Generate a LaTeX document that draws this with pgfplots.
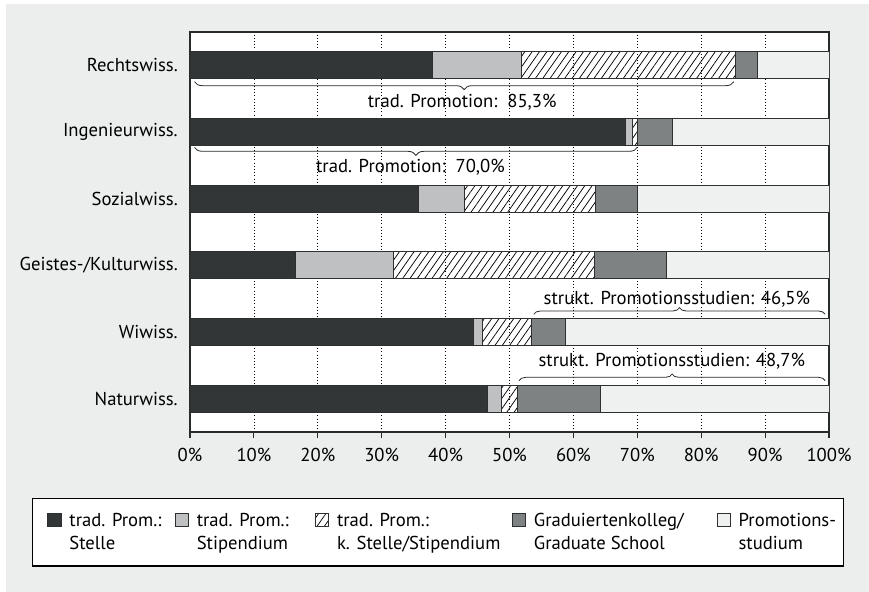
\documentclass[border=0pt]{standalone}
\usepackage{fontspec}
\setmainfont{PT Sans}
\usepackage{pgfplots}
\pgfplotsset{compat=1.18}
\usetikzlibrary{patterns.meta,decorations.pathreplacing}

\definecolor{bgc}{RGB}{236,237,237}
\definecolor{axc}{RGB}{40,43,44}
\definecolor{barc}{RGB}{45,48,49}
\definecolor{cstelle}{RGB}{50,54,55}
\definecolor{cstip}{RGB}{191,192,193}
\definecolor{cgrad}{RGB}{126,130,130}
\definecolor{cstud}{RGB}{239,240,240}

\newcommand{\lent}[3]{\makebox[#1][l]{\begin{tabular}[b]{@{}l@{}}#2\\#3\end{tabular}}}

\begin{document}
\fontsize{14pt}{17.25pt}\selectfont
\begin{tikzpicture}
\useasboundingbox (0,0) rectangle (651.75pt,444pt);
\fill[bgc] (4.5pt,0) rectangle (651.75pt,441pt);
\begin{axis}[
  at={(142.5pt,120pt)}, anchor=south west,
  scale only axis, width=479.25pt, height=300pt,
  xbar stacked, bar width=20.25pt,
  xmin=0, xmax=100, ymin=-0.5, ymax=5.5,
  axis background/.style={fill=white},
  axis line style={draw=axc, line width=0.9pt},
  xtick={0,10,...,100},
  xticklabels={0\%,10\%,20\%,30\%,40\%,50\%,60\%,70\%,80\%,90\%,100\%},
  xticklabel style={yshift=-3pt},
  xtick pos=lower, tick align=outside, major tick length=4.5pt,
  xtick style={draw=axc, line width=0.8pt},
  ytick={0,...,5},
  yticklabels={Naturwiss., Wiwiss., Geistes-/Kulturwiss., Sozialwiss., Ingenieurwiss., Rechtswiss.},
  ytick style={draw=none},
  yticklabel style={inner sep=0pt, xshift=-4.5pt},
  xmajorgrids, major grid style={dotted, black, line width=0.5pt},
  legend columns=5,
  legend image code/.code={\draw[#1, line width=0.6pt] (0.5pt,17.25pt) rectangle (10.5pt,27.25pt); \path (0pt,-3pt);},
  legend style={at={(-0.2473,-0.165)}, anchor=north west, draw=black, line width=1pt,
    fill=white, inner xsep=10.5pt, inner ysep=9pt, cells={anchor=base west},
    nodes={inner sep=0pt},
    /tikz/every odd column/.append style={column sep=6pt},
    /tikz/every even column/.append style={column sep=0pt}},
]
% Stelle
\addplot[fill=cstelle, draw=barc, line width=0.6pt] coordinates
  {(46.5,0) (44.4,1) (16.5,2) (35.8,3) (68.2,4) (38.0,5)};
% Stipendium
\addplot[fill=cstip, draw=barc, line width=0.6pt] coordinates
  {(2.3,0) (1.3,1) (15.3,2) (7.1,3) (1.0,4) (13.9,5)};
% keine Stelle / kein Stipendium
\addplot[fill=white, pattern={Lines[angle=55,distance=4.5pt,line width=0.55pt]}, draw=barc, line width=0.6pt] coordinates
  {(2.5,0) (7.8,1) (31.5,2) (20.6,3) (0.8,4) (33.4,5)};
% Graduiertenkolleg
\addplot[fill=cgrad, draw=barc, line width=0.6pt] coordinates
  {(13.0,0) (5.3,1) (11.2,2) (6.5,3) (5.5,4) (3.5,5)};
% Promotionsstudium
\addplot[fill=cstud, draw=barc, line width=0.6pt] coordinates
  {(35.7,0) (41.2,1) (25.5,2) (30.0,3) (24.5,4) (11.2,5)};
\legend{\lent{78.4pt}{trad. Prom.:}{Stelle},
  \lent{88.1pt}{trad. Prom.:}{Stipendium},
  \lent{130.5pt}{trad. Prom.:}{k. Stelle/Stipendium},
  \lent{136.5pt}{Graduiertenkolleg/}{Graduate School},
  \lent{68.25pt}{Promotions-}{studium}}

\draw[axc, line width=0.6pt, decorate, decoration={brace, mirror, amplitude=6pt}]
  (0.7,4.755) -- (85.1,4.755);
\node at (42.6,4.45) {trad. Promotion:\ \ 85,3\%};
\draw[axc, line width=0.6pt, decorate, decoration={brace, mirror, amplitude=6pt}]
  (0.7,3.77) -- (70.0,3.77);
\node at (34.5,3.47) {trad. Promotion:\ \ 70,0\%};
\draw[axc, line width=0.6pt, decorate, decoration={brace, amplitude=5pt}]
  (53.8,1.265) -- (99.4,1.265);
\node at (76.2,1.495) {strukt. Promotionsstudien: 46,5\%};
\draw[axc, line width=0.6pt, decorate, decoration={brace, amplitude=5pt}]
  (51.5,0.27) -- (99.4,0.27);
\node at (75.4,0.555) {strukt. Promotionsstudien: 48,7\%};
\end{axis}
\end{tikzpicture}
\end{document}
